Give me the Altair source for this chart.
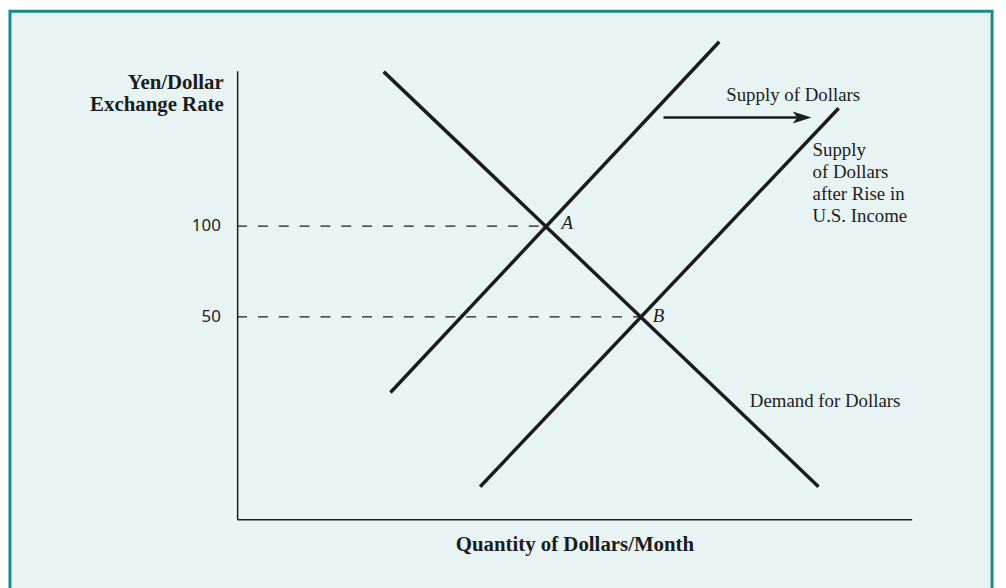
import altair as alt
import pandas as pd

# ---- values (quantity index 0-100, yen per dollar) ----
demand_q = [21.9, 86.0]
demand_r = [184.4, -42.9]
supply1_q = [22.9, 71.3]
supply1_r = [9.0, 200.8]
supply2_q = [36.2, 89.0]
supply2_r = [-42.9, 164.2]

eq_names = ["A", "B"]
eq_q = [45.9, 59.85]
eq_r = [100, 50]

arrow_q = [63.2, 83.0]
arrow_r = [159.8, 159.8]
arrow_head_q = [83.75]

y_ticks = [50, 100]

label_text = ["Supply of Dollars", "Demand for Dollars",
              "Supply\nof Dollars\nafter Rise in\nU.S. Income"]
label_q = [72.5, 76.0, 85.3]
label_r = [172.4, 3.6, 138.5]
label_base = ["middle", "middle", "alphabetic"]

point_label_q = [48.1, 61.6]
point_label_r = [101.4, 50.6]

BG = "#E8F4F4"
TEAL = "#178A8A"
INK = "#1c1c1c"

xs = alt.Scale(domain=[0, 100])
ys = alt.Scale(domain=[-61.5, 185.5])

lines_df = pd.DataFrame({
    "q": demand_q + supply1_q + supply2_q,
    "r": demand_r + supply1_r + supply2_r,
    "s": ["D"] * 2 + ["S1"] * 2 + ["S2"] * 2,
    "o": [0, 1] * 3,
})

dash_df = pd.DataFrame({
    "q": [0, eq_q[0], 0, eq_q[1]],
    "r": [eq_r[0], eq_r[0], eq_r[1], eq_r[1]],
    "s": ["A", "A", "B", "B"],
})

frame = alt.Chart(pd.DataFrame({"k": [0]})).mark_rect(
    fill=BG, stroke=TEAL, strokeWidth=3
).encode(
    x=alt.value(-229), x2=alt.value(761), y=alt.value(-60), y2=alt.value(620)
)

axes_layer = alt.Chart(pd.DataFrame({"q": [0], "r": [0]})).mark_point(opacity=0).encode(
    x=alt.X("q:Q", scale=xs, axis=alt.Axis(
        title="Quantity of Dollars/Month", labels=False, ticks=False, tickSize=0,
        grid=False, domainColor=INK, domainWidth=1.5, zindex=1,
        titleFont="Liberation Serif", titleFontSize=21, titleFontWeight="bold",
        titleColor=INK, titlePadding=15)),
    y=alt.Y("r:Q", scale=ys, axis=alt.Axis(
        title=["Yen/Dollar", "Exchange Rate"], values=y_ticks, ticks=False, tickSize=0,
        grid=False, domainColor=INK, domainWidth=1.5, zindex=1,
        labelFont="Noto Sans", labelFontSize=17, labelColor=INK, labelPadding=17,
        titleFont="Liberation Serif", titleFontSize=21, titleFontWeight="bold",
        titleColor=INK, titleAngle=0, titleAlign="right", titleBaseline="alphabetic",
        titleX=-14, titleY=18, titleLineHeight=22)),
)

dashes = alt.Chart(dash_df).mark_line(
    color=INK, strokeWidth=1.2, strokeDash=[10, 11]
).encode(x=alt.X("q:Q", scale=xs), y=alt.Y("r:Q", scale=ys), detail="s:N")

curves = alt.Chart(lines_df).mark_line(
    color=INK, strokeWidth=3.5, strokeCap="square", clip=False
).encode(x=alt.X("q:Q", scale=xs), y=alt.Y("r:Q", scale=ys), detail="s:N", order="o:Q")

shaft = alt.Chart(pd.DataFrame({"q": arrow_q, "r": arrow_r})).mark_line(
    color=INK, strokeWidth=2.5
).encode(x=alt.X("q:Q", scale=xs), y=alt.Y("r:Q", scale=ys))

head = alt.Chart(pd.DataFrame({"q": arrow_head_q, "r": [arrow_r[1]]})).mark_point(
    shape="M1,0 L-1,-0.63 L-0.5,0 L-1,0.63 Z", size=361, filled=True,
    color=INK, opacity=1, strokeWidth=0
).encode(x=alt.X("q:Q", scale=xs), y=alt.Y("r:Q", scale=ys))

labels = []
for t, q, r, b in zip(label_text, label_q, label_r, label_base):
    labels.append(
        alt.Chart(pd.DataFrame({"q": [q], "r": [r], "t": [t]})).mark_text(
            font="Liberation Serif", fontSize=19, color=INK, align="left",
            baseline=b, lineBreak="\n", lineHeight=22
        ).encode(x=alt.X("q:Q", scale=xs), y=alt.Y("r:Q", scale=ys), text="t:N")
    )

pt_labels = alt.Chart(pd.DataFrame({"q": point_label_q, "r": point_label_r, "t": eq_names})).mark_text(
    font="Liberation Serif", fontSize=19, fontStyle="italic", color=INK,
    align="left", baseline="middle"
).encode(x=alt.X("q:Q", scale=xs), y=alt.Y("r:Q", scale=ys), text="t:N")

chart = alt.layer(
    frame, axes_layer, dashes, curves, shaft, head, *labels, pt_labels
).properties(
    width=680, height=452,
    autosize=alt.AutoSizeParams(type="none"),
    padding={"left": 231, "top": 61, "right": 87, "bottom": 67},
    background="white",
).configure_view(stroke=None)

chart.save("out.html", embed_options={"renderer": "svg", "actions": False})
